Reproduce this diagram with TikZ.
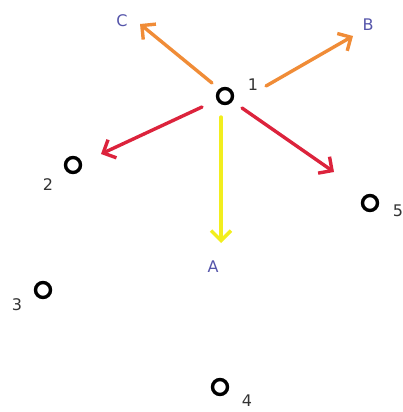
\documentclass[tikz,border=0pt]{standalone}
\usepackage{fontspec}
\setmainfont{DejaVu Sans}
\usetikzlibrary{arrows.meta}
\definecolor{arrorange}{RGB}{240,140,55}
\definecolor{arrred}{RGB}{220,35,60}
\definecolor{arryellow}{RGB}{242,238,30}
\definecolor{lblblue}{RGB}{85,85,170}
\begin{document}
\begin{tikzpicture}[x=1pt,y=-1pt,
  pt/.style={circle,draw=black,line width=3.4pt,minimum size=15pt,inner sep=0pt},
  num/.style={font=\fontsize{16}{16}\selectfont,text=black!80,inner sep=0pt},
  lbl/.style={font=\fontsize{16}{16}\selectfont,text=lblblue,inner sep=0pt},
  arr/.style={line width=3.4pt,line cap=round,-{Straight Barb[length=10pt,width=20pt,line width=3.4pt]}}]
\useasboundingbox (0,0) rectangle (403,412);
\node[pt] (n1) at (225,96) {};
\node[pt] (n2) at (73,165) {};
\node[pt] (n3) at (43,290) {};
\node[pt] (n4) at (220,387) {};
\node[pt] (n5) at (370,203) {};
\node[num] (l1) at (253,85) {1};
\node[num] (l2) at (48,185) {2};
\node[num] (l3) at (17,305) {3};
\node[num] (l4) at (247,401) {4};
\node[num] (l5) at (398,211) {5};
\node[lbl] (lA) at (213,267) {A};
\node[lbl] (lB) at (368,25) {B};
\node[lbl] (lC) at (122,21) {C};
\coordinate (sC) at (212,83);
\coordinate (eC) at (140,24);
\coordinate (sB) at (266,86);
\coordinate (eB) at (353,36);
\coordinate (sL) at (202,107);
\coordinate (eL) at (101,154);
\coordinate (sR) at (242,108);
\coordinate (eR) at (334,172);
\coordinate (sA) at (221,117);
\coordinate (eA) at (221,243);
\draw[arr,arrorange] (sC) -- (eC);
\draw[arr,arrorange] (sB) -- (eB);
\draw[arr,arrred] (sL) -- (eL);
\draw[arr,arrred] (sR) -- (eR);
\draw[arr,arryellow] (sA) -- (eA);
\end{tikzpicture}
\end{document}
